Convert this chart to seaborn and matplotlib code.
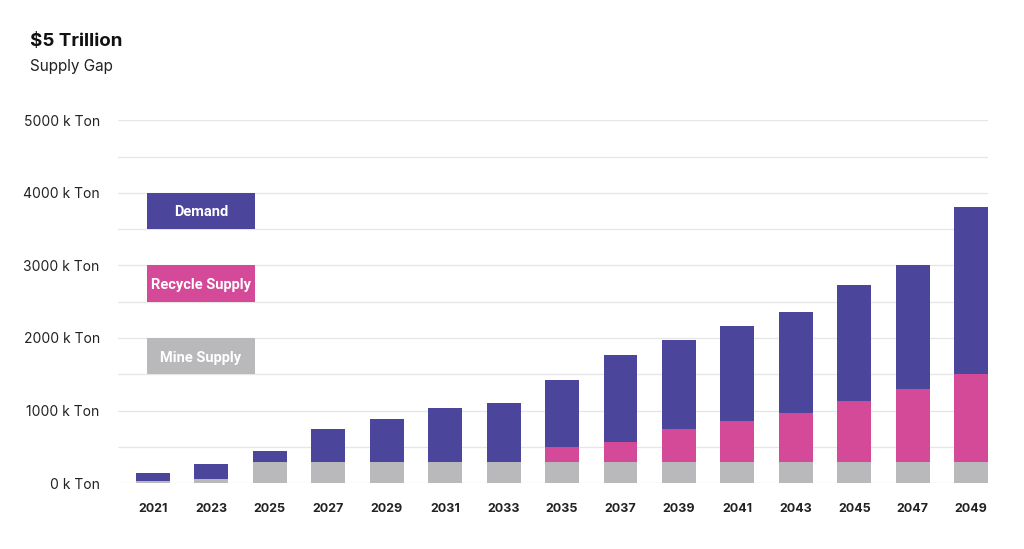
import numpy as np
import pandas as pd
import matplotlib.pyplot as plt
import matplotlib.patches as mpatches
import seaborn as sns

# Data (k Ton) - cumulative stack levels
years = ['2021', '2023', '2025', '2027', '2029', '2031', '2033', '2035',
         '2037', '2039', '2041', '2043', '2045', '2047', '2049']
mine_supply = [35, 60, 290, 290, 290, 290, 290, 290, 290, 290, 290, 290, 290, 290, 290]
recycle_top = [35, 60, 290, 290, 290, 290, 290, 500, 565, 745, 860, 965, 1125, 1300, 1500]
demand_top = [140, 260, 440, 750, 890, 1040, 1110, 1420, 1760, 1970, 2160, 2355, 2730, 3000, 3800]

df = pd.DataFrame({'year': years, 'mine': mine_supply,
                   'recycle': recycle_top, 'demand': demand_top})

C_DEMAND = '#4B469C'
C_RECYCLE = '#D44A98'
C_MINE = '#B9B9BB'

sns.set_theme(style='white')
plt.rcParams['font.family'] = ['Inter', 'DejaVu Sans']

fig = plt.figure(figsize=(10.24, 5.49), dpi=100)
ax = fig.add_axes([0.115, 0.12, 0.85, 0.661])

bw = 0.58
for col, color in [('demand', C_DEMAND), ('recycle', C_RECYCLE), ('mine', C_MINE)]:
    sns.barplot(data=df, x='year', y=col, order=years, color=color,
                width=bw, saturation=1, ax=ax, zorder=3, edgecolor='none')

ax.set_ylim(0, 5000)
ax.set_xlim(-0.6, len(years) - 1 + bw / 2)
ax.set_yticks(np.arange(0, 5001, 500))
ax.set_yticklabels([f'{int(v)} k Ton' if v % 1000 == 0 else '' for v in np.arange(0, 5001, 500)])
ax.grid(True, axis='y', color='#E6E6E6', linewidth=0.9, zorder=0)
ax.set_axisbelow(True)
for s in ax.spines.values():
    s.set_visible(False)
ax.tick_params(axis='y', length=0, pad=13, labelsize=10, labelcolor='#222222')
ax.tick_params(axis='x', length=0, pad=14, labelsize=9, labelcolor='#222222')
for lab in ax.get_xticklabels():
    lab.set_fontweight('bold')
ax.set_xlabel('')
ax.set_ylabel('')

# legend boxes drawn inside the plot
legend_items = [('Demand', C_DEMAND, 3500), ('Recycle Supply', C_RECYCLE, 2500),
                ('Mine Supply', C_MINE, 1500)]
for label, color, y0 in legend_items:
    ax.add_patch(mpatches.Rectangle((-0.1, y0), 1.85, 500, facecolor=color,
                                    edgecolor='none', zorder=4))
    ax.text(-0.1 + 1.85 / 2, y0 + 230, label, ha='center', va='center',
            color='white', fontsize=10.5, fontweight='bold', zorder=5,
            family=['Liberation Sans Narrow', 'Roboto', 'DejaVu Sans'])

fig.text(0.029, 0.925, '$5 Trillion', fontsize=13.5, fontweight='bold',
         color='#111111', va='center')
fig.text(0.029, 0.878, 'Supply Gap', fontsize=11, color='#222222', va='center')

fig.savefig('out.png', dpi=100, facecolor='white')
